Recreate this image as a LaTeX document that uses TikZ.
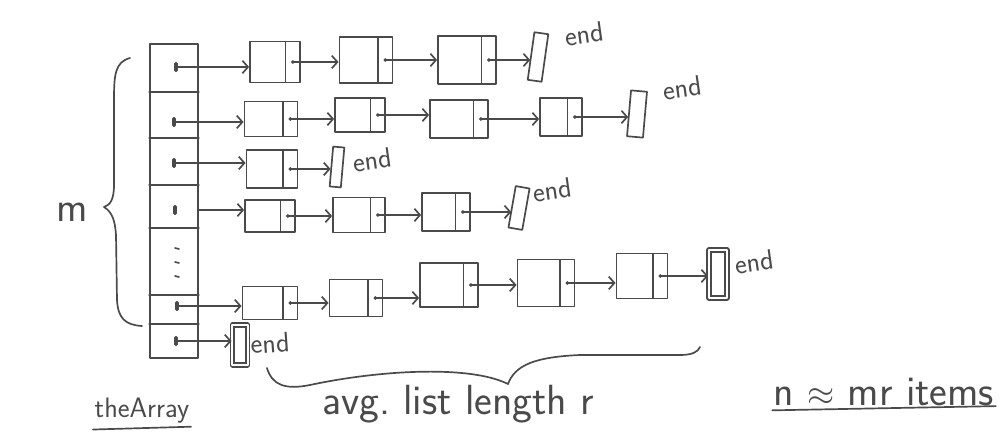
\documentclass[tikz,border=0pt]{standalone}
\usepackage{fontspec}
\usetikzlibrary{arrows.meta}
\definecolor{pencil}{HTML}{4A4A4A}

\begin{document}
\begin{tikzpicture}[
  x=0.025cm, y=-0.025cm,
  hand/.style={draw=pencil, line width=1.2pt, line join=round, line cap=round},
  lnode/.style 2 args={
    hand, rectangle, minimum width=#1, minimum height=#2, inner sep=0pt,
    path picture={
      \draw[hand] ([xshift=-0.36cm]path picture bounding box.north east)
        -- ([xshift=-0.36cm]path picture bounding box.south east);
      \fill[pencil] ([xshift=-0.18cm]path picture bounding box.east) circle (1.4pt);
    }
  },
  endbox/.style 2 args={hand, rectangle, minimum width=#1, minimum height=#2, inner sep=0pt},
  ptr/.style={fill=pencil, rectangle, rounded corners=1pt, inner sep=0pt,
    minimum width=2.5pt, minimum height=7pt},
  arr/.style={hand, -{Straight Barb[length=4pt, width=9pt, line width=1.2pt]}},
  lbl/.style={text=pencil, font=\sffamily\fontsize{30}{32}\selectfont, inner sep=1pt},
  endlbl/.style={text=pencil, font=\sffamily\fontsize{20}{22}\selectfont, inner sep=0pt},
]
\useasboundingbox (0,0) rectangle (1003,444);

% the array
\node[hand, minimum width=1.2cm, minimum height=7.85cm, inner sep=0pt] (arr) at (174,201) {};
\foreach \y in {92,138,185,228,295,324}
  \draw[hand] (arr.west |- 0,\y) -- (arr.east |- 0,\y);
\foreach \y in {248,262,276}
  \draw[hand] (175,\y) -- (179,\y+1);

% pointers in the cells
\node[ptr] (p1) at (176,67) {};
\node[ptr] (p2) at (174,122) {};
\node[ptr] (p3) at (174,163) {};
\node[ptr] (p4) at (175,210) {};
\node[ptr] (p6) at (177,306) {};
\node[ptr] (p7) at (176,341) {};

% chains
\node[lnode={1.25cm}{1.02cm}] (n11) at (275,62) {};
\node[lnode={1.33cm}{1.15cm}] (n12) at (366,60) {};
\node[lnode={1.45cm}{1.2cm}]  (n13) at (467,60) {};
\node[endbox={0.35cm}{1.2cm}, rotate=-8] (e1) at (538,57) {};

\node[lnode={1.33cm}{0.88cm}] (n21) at (271,119) {};
\node[lnode={1.25cm}{0.85cm}] (n22) at (360,115) {};
\node[lnode={1.45cm}{0.95cm}] (n23) at (459,119) {};
\node[lnode={1.05cm}{0.95cm}] (n24) at (561,117) {};
\node[endbox={0.4cm}{1.15cm}, rotate=-5] (e2) at (637,114) {};

\node[lnode={1.28cm}{0.95cm}] (n31) at (272,169) {};
\node[endbox={0.28cm}{1cm}, rotate=-5] (e3) at (337,167) {};

\node[lnode={1.25cm}{0.8cm}]  (n41) at (270,216) {};
\node[lnode={1.3cm}{0.88cm}]  (n42) at (359,215) {};
\node[lnode={1.2cm}{0.95cm}]  (n43) at (446,212) {};
\node[endbox={0.35cm}{1.05cm}, rotate=-10] (e4) at (519,208) {};

\node[lnode={1.38cm}{0.83cm}] (n61) at (270,303) {};
\node[lnode={1.33cm}{0.93cm}] (n62) at (356,298) {};
\node[lnode={1.45cm}{1.1cm}]  (n63) at (449,285) {};
\node[lnode={1.43cm}{1.18cm}] (n64) at (546,283) {};
\node[lnode={1.28cm}{1.13cm}] (n65) at (642,276) {};
\node[endbox={0.45cm}{1.2cm}, double=white, double distance=1.5pt] (e6) at (718,274) {};

\node[endbox={0.38cm}{1cm}, double=white, double distance=1.5pt] (e7) at (240,345) {};

% arrows
\foreach \p/\b in {p1/n11, p2/n21, p3/n31, p6/n61, p7/e7}
  \draw[arr] (\p) -- (\p -| \b.west);
\draw[arr] (p4 -| arr.east) -- (p4 -| n41.west);
\foreach \a/\b in {n11/n12, n12/n13, n13/e1, n21/n22, n22/n23, n23/n24, n24/e2,
                   n31/e3, n41/n42, n42/n43, n43/e4,
                   n61/n62, n62/n63, n63/n64, n64/n65, n65/e6}
  \draw[arr] ([xshift=-0.18cm]\a.east) -- (\a.east -| \b.west);

% end labels
\node[endlbl, rotate=8] (t1) at (584,34) {end};
\node[endlbl, rotate=8] (t2) at (682,88) {end};
\node[endlbl, rotate=8] (t3) at (372,160) {end};
\node[endlbl, rotate=8] (t4) at (552,190) {end};
\node[endlbl, rotate=8] (t6) at (754,262) {end};
\node[endlbl, rotate=4] (t7) at (270,343) {end};

% braces
\draw[hand] (130,58) .. controls (115,62) and (114,75) .. (114,100) -- (114,185)
  .. controls (114,200) and (110,205) .. (104,207)
  .. controls (112,212) and (115,220) .. (116,235) -- (117,300)
  .. controls (118,318) and (125,325) .. (142,326);
\node[lbl] (m) at (72,212) {m};

\draw[hand] (267,368) .. controls (272,385) and (285,390) .. (310,385)
  .. controls (380,370) and (470,365) .. (508,384)
  .. controls (515,365) and (535,357) .. (580,355) -- (680,355)
  .. controls (692,355) and (698,352) .. (700,347);

% bottom labels
\node[lbl, font=\sffamily\fontsize{20}{22}\selectfont] (tarr) at (142,411) {theArray};
\draw[hand] ([yshift=-3pt]tarr.south west) -- ([yshift=-1pt]tarr.south east);
\node[lbl] (avg) at (458,404) {avg.\ list length r};
\node[lbl] (nmr) at (884,392) {n $\approx$ mr items};
\draw[hand] ([yshift=-2pt]nmr.south west) -- ([yshift=1pt]nmr.south east);
\end{tikzpicture}
\end{document}
